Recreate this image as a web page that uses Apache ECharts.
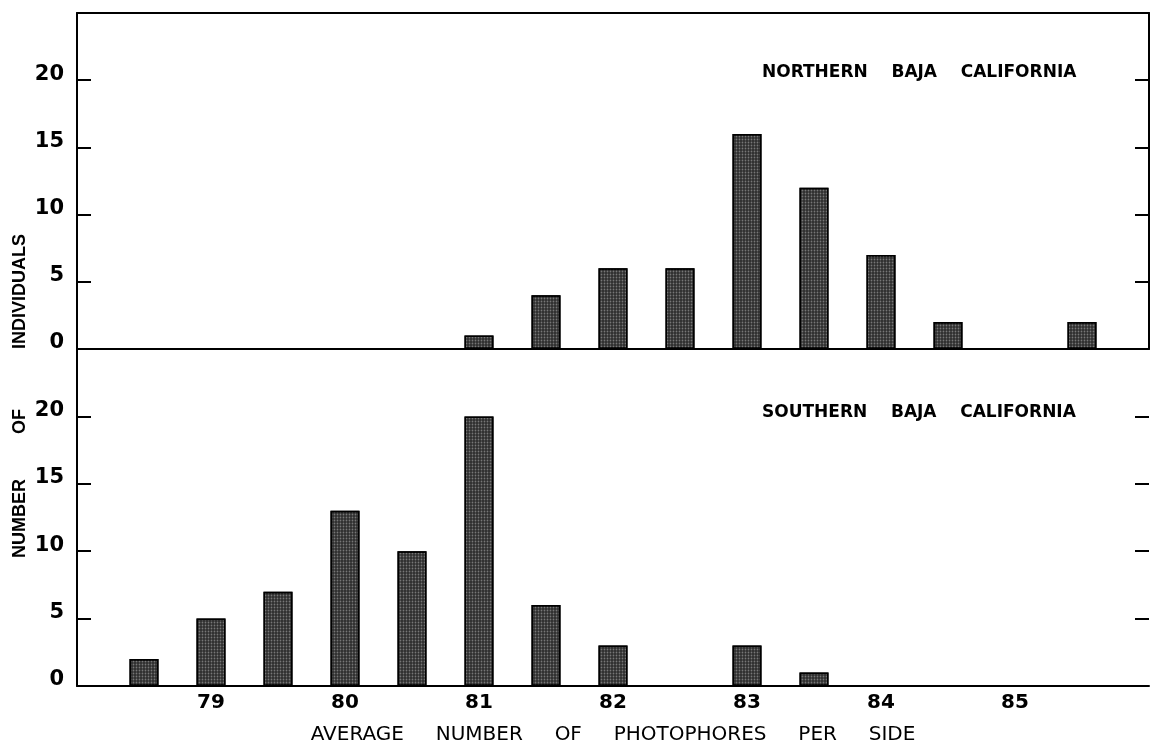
<!DOCTYPE html>
<html><head><meta charset="utf-8">
<script src="https://cdn.jsdelivr.net/npm/echarts@6/dist/echarts.min.js"></script>
<style>html,body{margin:0;padding:0;background:#fff}#c{width:1150px;height:749px}</style>
</head><body><div id="c"></div>
<script>
const northX = [81, 81.5, 82, 82.5, 83, 83.5, 84, 84.5, 85.5];
const northN = [1, 4, 6, 6, 16, 12, 7, 2, 2];
const southX = [78.5, 79, 79.5, 80, 80.5, 81, 81.5, 82, 83, 83.5];
const southN = [2, 5, 7, 13, 10, 20, 6, 3, 3, 1];
const xTicks = [79, 80, 81, 82, 83, 84, 85];
const yTicks = [0, 5, 10, 15, 20];
const titles = ['NORTHERN    BAJA    CALIFORNIA', 'SOUTHERN    BAJA    CALIFORNIA'];
const xName = 'AVERAGE     NUMBER     OF     PHOTOPHORES     PER     SIDE';
const yName = 'NUMBER         OF            INDIVIDUALS';

const dv = '"DejaVu Sans", "Liberation Sans", sans-serif';
const lib = '"Liberation Sans", "DejaVu Sans", sans-serif';
const chart = echarts.init(document.getElementById('c'));
const barStyle = {
  color: '#2e2e2e', borderColor: '#000', borderWidth: 1.5,
  decal: {symbol: 'circle', symbolSize: 0.6, color: 'rgba(255,255,255,0.35)', dashArrayX: [3, 0], dashArrayY: [3, 0]}
};
function yAx(gi, showRight) {
  return [{
    type: 'value', gridIndex: gi, min: 0, max: 25, interval: 5, position: 'left',
    axisLine: {show: true, lineStyle: {color: '#000', width: 2}},
    axisTick: {show: true, inside: true, length: 14, lineStyle: {color: '#000', width: 2}, customValues: yTicks},
    axisLabel: {color: '#000', fontSize: 21, fontWeight: 'bold', fontFamily: dv, margin: 13,
                customValues: yTicks, verticalAlign: 'bottom', lineHeight: 12},
    splitLine: {show: false}
  }, {
    type: 'value', gridIndex: gi, min: 0, max: 25, interval: 5, position: 'right',
    axisLine: {show: showRight, lineStyle: {color: '#000', width: 2}},
    axisTick: {show: true, inside: true, length: 14, lineStyle: {color: '#000', width: 2}, customValues: yTicks},
    axisLabel: {show: false}, splitLine: {show: false}
  }];
}
chart.setOption({
  backgroundColor: '#fff',
  animation: false,
  grid: [
    {left: 77, right: 1, top: 13, height: 336},
    {left: 77, right: 1, top: 349, height: 337}
  ],
  xAxis: [
    {type: 'value', gridIndex: 0, min: 78, max: 86, interval: 1, position: 'bottom',
     axisLine: {show: true, onZero: false, lineStyle: {color: '#000', width: 2}},
     axisTick: {show: false}, axisLabel: {show: false}, splitLine: {show: false}},
    {type: 'value', gridIndex: 0, min: 78, max: 86, interval: 1, position: 'top',
     axisLine: {show: true, onZero: false, lineStyle: {color: '#000', width: 2}},
     axisTick: {show: false}, axisLabel: {show: false}, splitLine: {show: false}},
    {type: 'value', gridIndex: 1, min: 78, max: 86, interval: 1, position: 'bottom',
     axisLine: {show: true, onZero: false, lineStyle: {color: '#000', width: 2}},
     axisTick: {show: false},
     axisLabel: {color: '#000', fontSize: 20, fontWeight: 'bold', fontFamily: dv, margin: 7, customValues: xTicks},
     splitLine: {show: false},
     name: xName, nameLocation: 'middle', nameGap: 39,
     nameTextStyle: {color: '#000', fontSize: 20, fontFamily: dv}}
  ],
  yAxis: [...yAx(0, true), ...yAx(1, false)],
  series: [
    {type: 'bar', xAxisIndex: 0, yAxisIndex: 0, barWidth: 29, itemStyle: barStyle,
     data: northX.map((x, i) => [x, northN[i]])},
    {type: 'bar', xAxisIndex: 2, yAxisIndex: 2, barWidth: 29, itemStyle: barStyle,
     data: southX.map((x, i) => [x, southN[i]])}
  ],
  graphic: [
    {type: 'text', x: 762, y: 73, style: {text: titles[0], font: 'bold 17px ' + dv, fill: '#000', verticalAlign: 'middle'}},
    {type: 'text', x: 762, y: 413, style: {text: titles[1], font: 'bold 17px ' + dv, fill: '#000', verticalAlign: 'middle'}},
    {type: 'text', x: 20, y: 396, rotation: Math.PI / 2,
     style: {text: yName, font: 'bold 18px ' + lib, fill: '#000', align: 'center', verticalAlign: 'middle'}}
  ]
});
</script></body></html>
